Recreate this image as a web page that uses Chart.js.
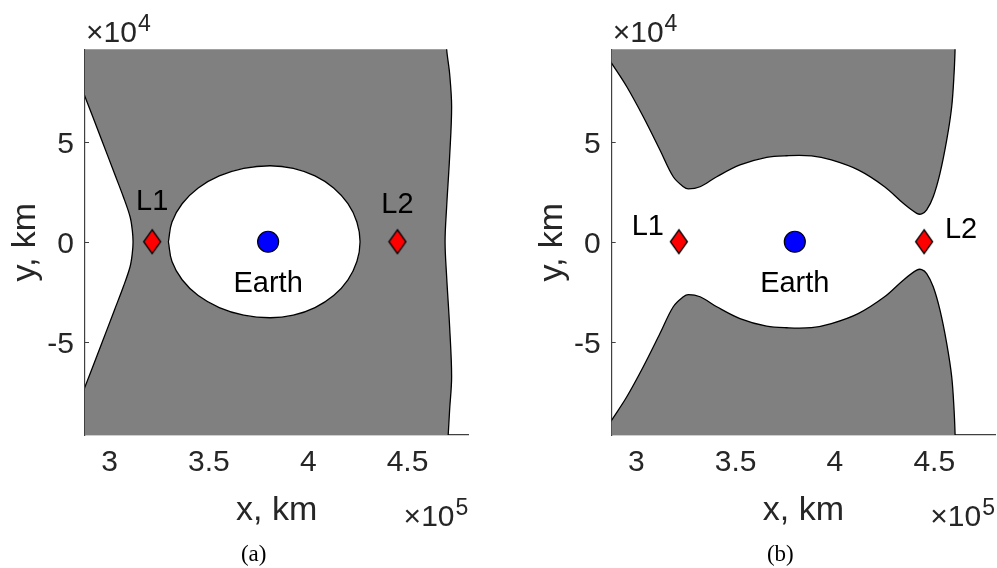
<!DOCTYPE html>
<html>
<head>
<meta charset="utf-8">
<script src="https://cdn.jsdelivr.net/npm/chart.js@4.4.0/dist/chart.umd.min.js"></script>
<style>
html, body { margin: 0; padding: 0; background: #ffffff; }
#wrap { position: relative; width: 997px; height: 568px; overflow: hidden; background: #ffffff; }
canvas { position: absolute; top: 0; }
#ca { left: 0; }
#cb { left: 500px; }
</style>
</head>
<body>
<div id="wrap">
  <canvas id="ca" width="500" height="568"></canvas>
  <canvas id="cb" width="497" height="568"></canvas>
</div>
<script>
// Units: x in 10^5 km, y in 10^4 km (as shown by the axis exponents)
const xTickValues = [3, 3.5, 4, 4.5];
const yTickValues = [-5, 0, 5];
const xLimits = [2.876, 4.806];
const yLimits = [-9.66, 9.62];

// Markers
const lagrangeX = [3.214, 4.449];
const lagrangeY = [0, 0];
const earthX = [3.798];
const earthY = [0];

// Panel (a): boundary of the forbidden (grey) region
const aLeftX  = [2.70, 2.827, 2.876, 2.960, 3.024, 3.069, 3.103, 3.114, 3.118, 3.114, 3.103, 3.069, 3.024, 2.960, 2.876, 2.827, 2.70];
const aLeftY  = [10.5, 8.5, 7.25, 5.09, 3.42, 2.25, 1.25, 0.59, 0, -0.59, -1.25, -2.25, -3.42, -5.09, -7.25, -8.5, -10.5];
const aRightX = [4.700, 4.705, 4.712, 4.722, 4.712, 4.697, 4.689, 4.697, 4.712, 4.722, 4.712, 4.697, 4.695];
const aRightY = [-10.5, -9.62, -8.4, -6.75, -4.25, -1.75, 0, 1.75, 4.25, 6.75, 8.4, 9.62, 10.5];
// Panel (a): allowed oval around Earth
const aOvalX = [3.296, 3.314, 3.365, 3.446, 3.552, 3.675, 3.808, 3.925, 4.034, 4.128, 4.200, 4.245, 4.261,
                4.245, 4.200, 4.128, 4.034, 3.925, 3.808, 3.675, 3.552, 3.446, 3.365, 3.314, 3.296];
const aOvalY = [0, 0.99, 1.90, 2.69, 3.29, 3.67, 3.80, 3.67, 3.29, 2.69, 1.90, 0.99, 0,
                -0.99, -1.90, -2.69, -3.29, -3.67, -3.80, -3.67, -3.29, -2.69, -1.90, -0.99, 0];

// Panel (b): upper and lower forbidden regions
const bUpperX = [2.75, 2.819, 2.876, 2.952, 3.035, 3.119, 3.186, 3.237, 3.262, 3.321, 3.405, 3.522, 3.656, 3.757, 3.882, 3.982, 4.117, 4.250, 4.344, 4.412, 4.437, 4.462, 4.495, 4.529, 4.563, 4.588, 4.600, 4.605, 4.607];
const bUpperY = [10.5, 9.8, 8.92, 7.75, 6.25, 4.59, 3.25, 2.75, 2.64, 2.75, 3.25, 3.84, 4.22, 4.30, 4.29, 4.09, 3.59, 2.75, 1.92, 1.42, 1.39, 1.59, 2.25, 3.42, 5.09, 6.75, 8.42, 9.62, 10.5];
const bLowerX = [2.75, 2.819, 2.876, 2.952, 3.035, 3.119, 3.186, 3.237, 3.262, 3.321, 3.405, 3.522, 3.656, 3.757, 3.882, 3.982, 4.117, 4.250, 4.344, 4.412, 4.437, 4.462, 4.495, 4.529, 4.563, 4.588, 4.600, 4.605, 4.607];
const bLowerY = [-10.5, -9.8, -8.92, -7.75, -6.25, -4.59, -3.25, -2.75, -2.64, -2.75, -3.25, -3.84, -4.22, -4.30, -4.29, -4.09, -3.59, -2.75, -1.92, -1.42, -1.39, -1.59, -2.25, -3.42, -5.09, -6.75, -8.42, -9.62, -10.5];

const FONT = '"Liberation Sans", Arial, Helvetica, sans-serif';
const SERIF = '"Liberation Serif", "Times New Roman", serif';
Chart.defaults.font.family = FONT;

function pts(xs, ys) { return xs.map((x, i) => ({ x: x, y: ys[i] })); }

function makeDiamond() {
  const c = document.createElement('canvas');
  c.width = 20; c.height = 27;
  const g = c.getContext('2d');
  g.beginPath();
  g.moveTo(10, 1.5); g.lineTo(18.5, 13.5); g.lineTo(10, 25.5); g.lineTo(1.5, 13.5);
  g.closePath();
  g.fillStyle = '#ff0000'; g.fill();
  g.lineWidth = 1.3; g.strokeStyle = '#000000'; g.lineJoin = 'miter'; g.stroke();
  return c;
}
const diamond = makeDiamond();

function markerSets() {
  return [
    { data: pts(lagrangeX, lagrangeY), pointStyle: diamond, pointRadius: 9, showLine: false, order: 0 },
    { data: pts(earthX, earthY), pointStyle: 'circle', pointRadius: 10.5, backgroundColor: '#0000ff',
      borderColor: '#000000', borderWidth: 1.2, showLine: false, order: 0 }
  ];
}
function region(xs, ys, color, order, tension) {
  return { data: pts(xs, ys), showLine: true, fill: 'shape', backgroundColor: color,
    borderColor: '#000000', borderWidth: 1.3, pointRadius: 0, tension: tension,
    capBezierPoints: false, order: order };
}

function scaleOpts(leftW) {
  return {
    x: {
      type: 'linear', position: 'bottom', min: xLimits[0], max: xLimits[1], z: 1,
      afterBuildTicks: s => { s.ticks = xTickValues.map(v => ({ value: v })); },
      afterFit: s => { s.height = 133; },
      grid: { display: false, drawTicks: false },
      border: { display: true, color: '#404040', width: 1.2 },
      ticks: { color: '#262626', font: { family: FONT, size: 30 }, padding: 10,
        maxRotation: 0, minRotation: 0, autoSkip: false, callback: v => String(v) }
    },
    y: {
      type: 'linear', position: 'left', min: yLimits[0], max: yLimits[1], z: 1,
      afterBuildTicks: s => { s.ticks = yTickValues.map(v => ({ value: v })); },
      afterFit: s => { s.width = leftW; },
      grid: { display: false, drawTicks: false },
      border: { display: true, color: '#404040', width: 1.2 },
      ticks: { color: '#262626', font: { family: FONT, size: 30 }, padding: 11, labelOffset: 3,
        autoSkip: false, callback: v => String(v) }
    }
  };
}

function drawPow(ctx, x, baseline, exp, alignRight) {
  ctx.save();
  ctx.fillStyle = '#262626';
  ctx.textBaseline = 'alphabetic';
  ctx.textAlign = 'left';
  const mainFont = '30px ' + FONT, supFont = '23px ' + FONT;
  ctx.font = mainFont;
  const w1 = ctx.measureText('\u00d710').width;
  ctx.font = supFont;
  const w2 = ctx.measureText(exp).width;
  const start = alignRight ? x - w1 - w2 - 1 : x;
  ctx.font = mainFont;
  ctx.fillText('\u00d710', start, baseline);
  ctx.font = supFont;
  ctx.fillText(exp, start + w1 + 1, baseline - 11);
  ctx.restore();
}

const annotPlugin = {
  id: 'annot',
  afterDraw(chart, args, o) {
    const ctx = chart.ctx, a = chart.chartArea;
    const xs = chart.scales.x, ys = chart.scales.y;
    ctx.save();
    // inward y tick marks
    ctx.strokeStyle = '#404040'; ctx.lineWidth = 1;
    yTickValues.forEach(v => {
      const py = Math.round(ys.getPixelForValue(v)) + 0.5;
      ctx.beginPath(); ctx.moveTo(a.left, py); ctx.lineTo(a.left + 4, py); ctx.stroke();
    });
    // exponents
    drawPow(ctx, a.left + 1, 42, '4', false);
    drawPow(ctx, a.right, 526, '5', true);
    // axis titles
    ctx.fillStyle = '#262626';
    ctx.font = '34px ' + FONT;
    ctx.textAlign = 'center'; ctx.textBaseline = 'alphabetic';
    ctx.fillText('x, km', (a.left + a.right) / 2, 520);
    ctx.save();
    ctx.translate(a.left - 50, (a.top + a.bottom) / 2);
    ctx.rotate(-Math.PI / 2);
    ctx.fillText('y, km', 0, 0);
    ctx.restore();
    // point labels
    ctx.fillStyle = '#000000';
    ctx.font = '29px ' + FONT;
    const l1 = [xs.getPixelForValue(lagrangeX[0]), ys.getPixelForValue(lagrangeY[0])];
    const l2 = [xs.getPixelForValue(lagrangeX[1]), ys.getPixelForValue(lagrangeY[1])];
    const ea = [xs.getPixelForValue(earthX[0]), ys.getPixelForValue(earthY[0])];
    ctx.fillText('L1', l1[0] + o.l1[0], l1[1] + o.l1[1]);
    ctx.fillText('L2', l2[0] + o.l2[0], l2[1] + o.l2[1]);
    ctx.fillText('Earth', ea[0] + o.earth[0], ea[1] + o.earth[1]);
    // caption
    ctx.font = '23px ' + SERIF;
    ctx.fillText(o.caption, (a.left + a.right) / 2 - 23, 561);
    ctx.restore();
  }
};

function makeChart(id, datasets, leftW, rightPad, annot) {
  return new Chart(document.getElementById(id), {
    type: 'scatter',
    data: { datasets: datasets },
    options: {
      responsive: false, maintainAspectRatio: false, animation: false, devicePixelRatio: 1,
      events: [],
      layout: { autoPadding: false, padding: { left: 0, right: rightPad, top: 49.3, bottom: 0 } },
      plugins: { legend: { display: false }, tooltip: { enabled: false }, annot: annot },
      scales: scaleOpts(leftW)
    },
    plugins: [annotPlugin]
  });
}

makeChart('ca', [
  ...markerSets(),
  region(aOvalX, aOvalY, '#ffffff', 1, 0.4),
  region(aLeftX.concat(aRightX), aLeftY.concat(aRightY), '#808080', 2, 0.35)
], 85, 31.7, { caption: '(a)', l1: [0, -32], l2: [0, -29], earth: [0, 50] });

makeChart('cb', [
  ...markerSets(),
  region(bUpperX, bUpperY, '#808080', 2, 0.35),
  region(bLowerX, bLowerY, '#808080', 2, 0.35)
], 111.7, 2, { caption: '(b)', l1: [-31, -7], l2: [37, -4], earth: [0, 50] });
</script>
</body>
</html>
